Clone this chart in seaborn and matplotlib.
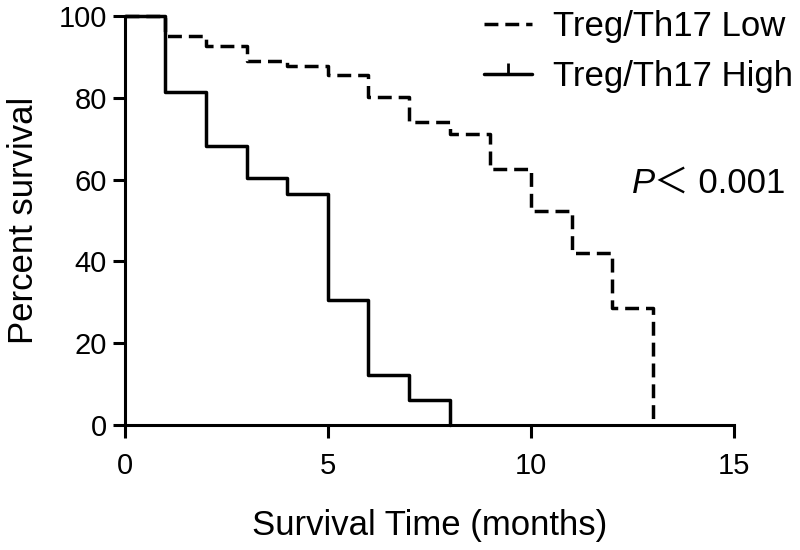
import numpy as np
import pandas as pd
import matplotlib
matplotlib.use("Agg")
import matplotlib.pyplot as plt
from matplotlib.lines import Line2D
import seaborn as sns

# Kaplan-Meier steps
low_months = [0, 1, 2, 3, 4, 5, 6, 7, 8, 9, 10, 11, 12, 13]
low_survival = [100, 95.2, 92.7, 88.9, 87.8, 85.5, 80.2, 74.2, 71.2, 62.7, 52.4, 42.0, 28.7, 0]
high_months = [0, 1, 2, 3, 4, 5, 6, 7, 8]
high_survival = [100, 81.3, 68.2, 60.3, 56.5, 30.5, 12.2, 6.1, 0]
groups = ["Treg/Th17 Low", "Treg/Th17 High"]
x_ticks = [0, 5, 10, 15]
y_ticks = [0, 20, 40, 60, 80, 100]

sns.set_style("ticks")
plt.rcParams['font.family'] = ['Liberation Sans', 'Noto Sans CJK SC', 'DejaVu Sans']
plt.rcParams['text.color'] = 'black'
plt.rcParams['axes.labelcolor'] = 'black'
plt.rcParams['xtick.color'] = 'black'
plt.rcParams['ytick.color'] = 'black'
plt.rcParams['axes.edgecolor'] = 'black'

df = pd.concat([
    pd.DataFrame({"months": low_months, "survival": low_survival, "group": groups[0]}),
    pd.DataFrame({"months": high_months, "survival": high_survival, "group": groups[1]}),
])

fig = plt.figure(figsize=(8, 5.5), dpi=100)
ax = fig.add_axes([0.156, 0.227, 0.7615, 0.744])

sns.lineplot(data=df[df.group == groups[0]], x="months", y="survival", estimator=None,
             drawstyle="steps-post", color="black", linewidth=2.5,
             linestyle=(0, (4, 2)), clip_on=False, ax=ax)
sns.lineplot(data=df[df.group == groups[1]], x="months", y="survival", estimator=None,
             drawstyle="steps-post", color="black", linewidth=2.5,
             clip_on=False, ax=ax)

ax.set_xlim(0, 15)
ax.set_ylim(0, 100)
ax.set_xticks(x_ticks)
ax.set_yticks(y_ticks)
sns.despine(ax=ax)
for s in ["left", "bottom"]:
    ax.spines[s].set_linewidth(2.2)
ax.tick_params(axis="both", length=9, width=2.2, labelsize=21, color="black", labelcolor="black")
ax.tick_params(axis="x", pad=10)
ax.tick_params(axis="y", pad=4)
ax.set_xlabel("Survival Time (months)", fontsize=25, labelpad=21)
ax.set_ylabel("Percent survival", fontsize=25, labelpad=13)

handles = [
    Line2D([], [], color="black", linewidth=2.5, linestyle=(0, (4, 2))),
    Line2D([], [], color="black", linewidth=2.5, marker=2, markersize=8, markeredgewidth=2),
]
fig.legend(handles, groups, loc="upper right", bbox_to_anchor=(1.0, 0.995),
           frameon=False, fontsize=25, handlelength=1.4, handletextpad=0.6,
           labelspacing=0.5, borderpad=0.2, borderaxespad=0)

fig.text(0.79, 0.649, "P", fontsize=25, style="italic", va="baseline")
fig.text(0.818, 0.649, "＜ 0.001", fontsize=25, va="baseline")

fig.savefig("out.png", dpi=100)
